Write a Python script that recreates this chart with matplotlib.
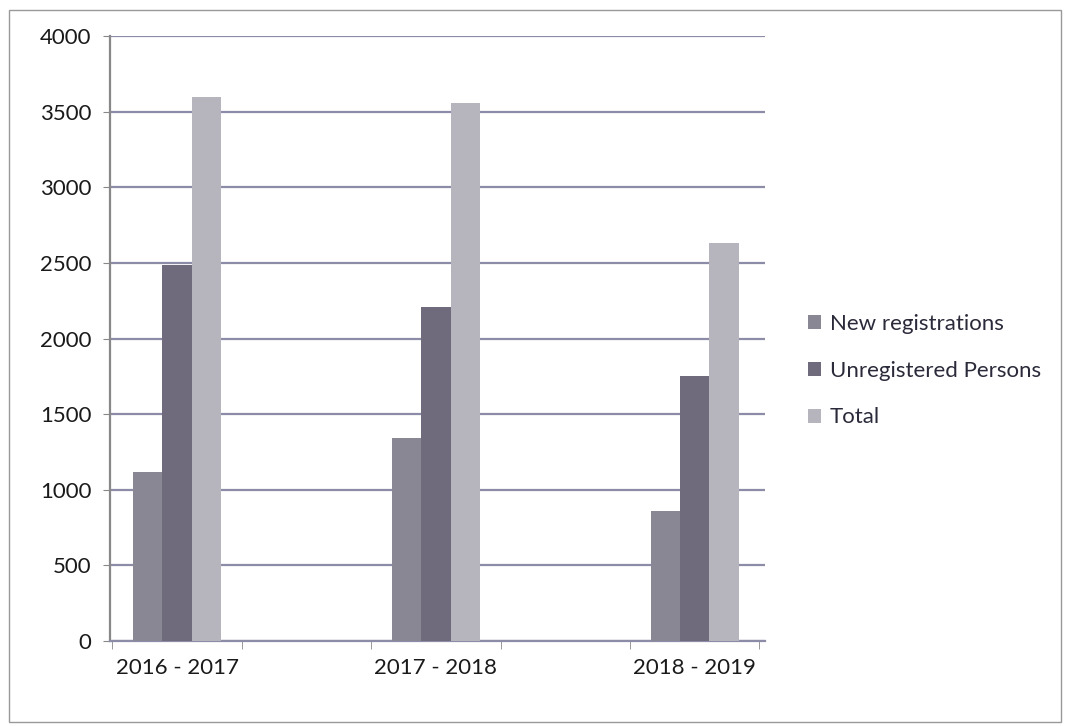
import matplotlib.pyplot as plt
import numpy as np
from matplotlib.patches import Rectangle

plt.rcParams['font.family'] = ['Lato', 'DejaVu Sans']

years = ['2016 - 2017', '2017 - 2018', '2018 - 2019']
new_reg = [1120, 1340, 860]
unregistered = [2490, 2210, 1750]
total = [3600, 3560, 2630]

fig = plt.figure(figsize=(10.65, 7.26), dpi=100)
ax = fig.add_axes([0.103, 0.117, 0.615, 0.833])

x = np.arange(len(years))
w = 0.113
ax.bar(x - w, new_reg, w, color='#8a8794', label='New registrations', zorder=3)
ax.bar(x, unregistered, w, color='#6f6b7d', label='Unregistered Persons', zorder=3)
ax.bar(x + w, total, w, color='#b6b5bd', label='Total', zorder=3)

ax.set_ylim(0, 4000)
ax.set_xlim(-0.26, 2.27)
ax.set_yticks(range(0, 4001, 500))
ax.yaxis.grid(True, color='#8c8ca8', linewidth=1.6, zorder=0)
ax.set_xticks(x)
ax.set_xticklabels(years)
ax.set_xticks([k + d for k in x for d in (-0.25, 0.25)], minor=True)
ax.tick_params(axis='x', which='major', length=0, pad=12, labelsize=16, labelcolor='#1a1a1a')
ax.tick_params(axis='x', which='minor', length=6, color='#888888', direction='out')
ax.tick_params(axis='y', length=5, color='#888888', labelsize=16, labelcolor='#1a1a1a', pad=8)

for s in ['top', 'right']:
    ax.spines[s].set_visible(False)
ax.spines['left'].set_color('#888888')
ax.spines['left'].set_linewidth(1.6)
ax.spines['bottom'].set_color('#8c8ca8')
ax.spines['bottom'].set_linewidth(1.6)

ax.legend(loc='center left', bbox_to_anchor=(1.035, 0.447), frameon=False,
          fontsize=16, handlelength=0.6, handleheight=0.6, handletextpad=0.4,
          labelspacing=1.2, labelcolor='#2a2a3a')

fig.patches.append(Rectangle((0.008, 0.006), 0.988, 0.98, transform=fig.transFigure,
                             fill=False, edgecolor='#999999', linewidth=1))

fig.savefig('out.png')
